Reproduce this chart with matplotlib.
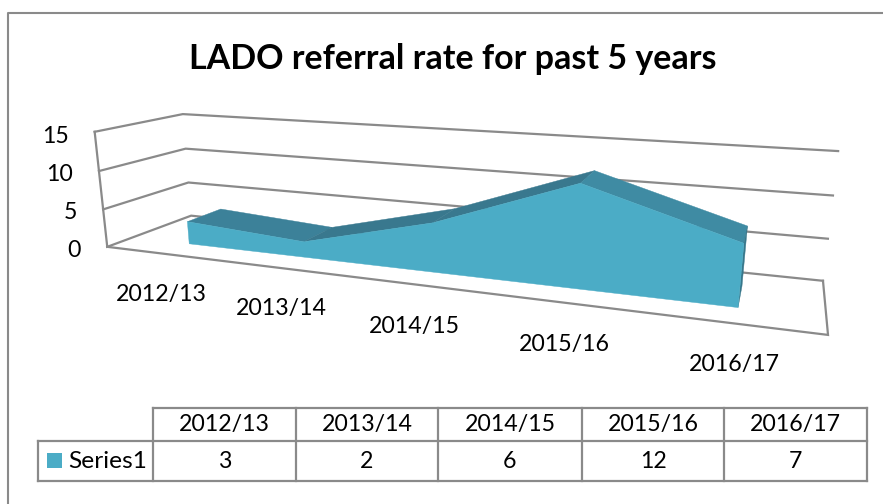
import numpy as np
import matplotlib
matplotlib.use("Agg")
from matplotlib import pyplot as plt
from matplotlib.patches import Polygon, Rectangle

years = ["2012/13", "2013/14", "2014/15", "2015/16", "2016/17"]
referrals = [3, 2, 6, 12, 7]
yticks = [0, 5, 10, 15]
series_name = "Series1"
title = "LADO referral rate for past 5 years"

plt.rcParams['font.family'] = ['Lato', 'DejaVu Sans']
GREY = '#8a8a8a'
FRONT = '#4bacc6'
RISE = '#39788e'
FIRST = '#3c8199'
FALL = '#3f8ba3'
SIDE = '#37778b'

# fit a camera to the box corners: (x 0-1, value, depth 0-1) -> picture pixels
corners = [
    (0, 0, 0, 107, 247), (1, 0, 0, 828, 335), (0, 0, 1, 190, 216), (1, 0, 1, 823, 281),
    (0, 15, 0, 93, 132), (0, 15, 1, 183, 114), (1, 15, 1, 838, 151),
    (0, 5, 0, 104, 209), (0, 10, 0, 100, 171), (0, 5, 1, 189, 182), (0, 10, 1, 186, 149),
    (1, 5, 1, 828, 238), (1, 10, 1, 833, 196),
]
rows = []
rhs = []
for x, y, z, u, v in corners:
    rows.append([x, y, z, 1, 0, 0, 0, 0, -u * x, -u * y, -u * z])
    rows.append([0, 0, 0, 0, x, y, z, 1, -v * x, -v * y, -v * z])
    rhs += [u, v]
cam = np.linalg.lstsq(np.array(rows, float), np.array(rhs, float), rcond=None)[0]
cam = np.append(cam, 1).reshape(3, 4)


def proj(x, y, z):
    p = cam @ np.array([x, y, z, 1.0])
    return p[0] / p[2], p[1] / p[2]


fig = plt.figure(figsize=(8.83, 5.04), dpi=100)
ax = fig.add_axes([0, 0, 1, 1])
ax.set_xlim(0, 883)
ax.set_ylim(504, 0)
ax.axis('off')

# chart frame
ax.plot([8, 8, 883], [504, 13, 13], color=GREY, lw=1.5)
ax.text(453, 59, title, ha='center', va='center', fontsize=24.5, fontweight='bold', color='black')


def line(*pts, **kw):
    ax.plot([p[0] for p in pts], [p[1] for p in pts], color=GREY, lw=1.6,
            solid_joinstyle='miter', **kw)


# walls and floor
tick_dy = [4, 3, 3, 5]
for t, dy in zip(yticks, tick_dy):
    line(proj(0, t, 0), proj(0, t, 1), proj(1, t, 1))
    px, py = proj(0, t, 0)
    ax.text(px - 26, py + dy, str(t), ha='right', va='center', fontsize=16.7)
line(proj(0, 0, 0), proj(0, 15, 0))
line(proj(0, 0, 0), proj(1, 0, 0), proj(1, 0, 1))

# area, drawn back to front and above the grid lines
xs = [0.105 + 0.199 * i for i in range(len(referrals))]
z0, z1 = 0.28, 0.70
for i in range(len(referrals) - 1):
    quad = [proj(xs[i], referrals[i], z0), proj(xs[i + 1], referrals[i + 1], z0),
            proj(xs[i + 1], referrals[i + 1], z1), proj(xs[i], referrals[i], z1)]
    if i == 0:
        col = FIRST
    elif referrals[i + 1] >= referrals[i]:
        col = RISE
    else:
        col = FALL
    ax.add_patch(Polygon(quad, closed=True, fc=col, ec=col, lw=0.3, zorder=3))
side = [proj(xs[-1], 0, z0), proj(xs[-1], referrals[-1], z0),
        proj(xs[-1], referrals[-1], z1), proj(xs[-1], 0, z1)]
ax.add_patch(Polygon(side, closed=True, fc=SIDE, ec=SIDE, lw=0.3, zorder=3))
front = [proj(x, v, z0) for x, v in zip(xs, referrals)]
front += [proj(xs[-1], 0, z0), proj(xs[0], 0, z0)]
ax.add_patch(Polygon(front, closed=True, fc=FRONT, ec=FRONT, lw=0.3, zorder=4))

# category labels
label_x = [161, 281, 414, 564, 734]
label_y = [295, 309, 326, 344, 364]
for s, lx, ly in zip(years, label_x, label_y):
    ax.text(lx, ly, s, ha='center', va='center', fontsize=16.7)

# data table
col_x = [153, 296, 438, 582, 724, 867]
line((153, 408), (867, 408))
line((38, 441), (867, 441))
line((38, 481), (867, 481))
line((38, 441), (38, 481))
for cx in col_x:
    line((cx, 408), (cx, 481))
for i in range(len(years)):
    mid = (col_x[i] + col_x[i + 1]) / 2
    ax.text(mid, 425, years[i], ha='center', va='center', fontsize=16.7)
    ax.text(mid, 462, str(referrals[i]), ha='center', va='center', fontsize=16.7)
ax.add_patch(Rectangle((47, 453), 15, 15, fc=FRONT, ec='none'))
ax.text(68, 461, series_name, ha='left', va='center', fontsize=17.6)

fig.savefig('out.png', dpi=100)
